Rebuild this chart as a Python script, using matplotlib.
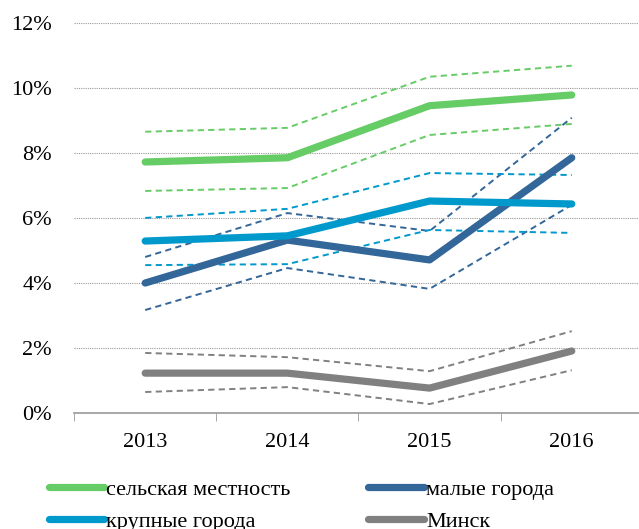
import numpy as np
import matplotlib.pyplot as plt

plt.rcParams['font.family'] = ['Liberation Serif', 'DejaVu Serif']

years = ['2013', '2014', '2015', '2016']

# main estimates and dashed bounds, %
rural = [7.72, 7.85, 9.45, 9.78]
rural_hi = [8.65, 8.77, 10.34, 10.68]
rural_lo = [6.83, 6.92, 8.55, 8.89]

small = [4.0, 5.32, 4.71, 7.85]
small_hi = [4.8, 6.15, 5.6, 9.08]
small_lo = [3.17, 4.46, 3.82, 6.4]

big = [5.29, 5.45, 6.52, 6.43]
big_hi = [6.0, 6.28, 7.38, 7.32]
big_lo = [4.55, 4.58, 5.63, 5.54]

minsk = [1.23, 1.23, 0.77, 1.91]
minsk_hi = [1.85, 1.72, 1.29, 2.52]
minsk_lo = [0.65, 0.8, 0.28, 1.32]

labels = ['сельская местность', 'малые города', 'крупные города', 'Минск']
colors = ['#66cc66', '#336699', '#0099cc', '#808080']

series = [(rural, rural_hi, rural_lo), (small, small_hi, small_lo),
          (big, big_hi, big_lo), (minsk, minsk_hi, minsk_lo)]

fig = plt.figure(figsize=(6.39, 5.29), dpi=100)
ax = fig.add_axes([0.116, 0.219, 0.89, 0.738])

x = np.arange(len(years))
handles = []
for (main, hi, lo), c, lab in zip(series, colors, labels):
    for b in (hi, lo):
        ax.plot(x, b, color=c, lw=1.4, dashes=(3.2, 2.2), zorder=2)
    h, = ax.plot(x, main, color=c, lw=5.2, solid_capstyle='round',
                 solid_joinstyle='round', label=lab, zorder=3)
    handles.append(h)

ax.set_xlim(-0.5, 3.5)
ax.set_ylim(0, 12)
ax.set_yticks(np.arange(0, 13, 2))
ax.set_yticklabels([f'{v}%' for v in range(0, 13, 2)])
ax.set_xticks(x)
ax.set_xticklabels(years)
ax.set_xticks(np.arange(-0.5, 3.6, 1), minor=True)
ax.tick_params(axis='x', which='major', length=0, pad=14, labelsize=16)
ax.tick_params(axis='x', which='minor', length=6, color='#999999', direction='out')
ax.tick_params(axis='y', length=0, pad=16, labelsize=16)
ax.grid(axis='y', color='#999999', linestyle=(0, (1, 1)), lw=0.8)
ax.set_axisbelow(True)
for s in ('left', 'right', 'top'):
    ax.spines[s].set_visible(False)
ax.spines['bottom'].set_color('#999999')
ax.spines['bottom'].set_linewidth(1.2)

# legend fills column-first, reorder so rows read as in the source
order = [0, 2, 1, 3]
fig.legend(handles=[handles[i] for i in order], ncol=2, loc='upper left',
           bbox_to_anchor=(0.062, 0.11), frameon=False, fontsize=16,
           handlelength=2.5, handletextpad=0.1, columnspacing=3.5,
           labelspacing=0.5, borderaxespad=0)

fig.savefig('out.png', dpi=100)
